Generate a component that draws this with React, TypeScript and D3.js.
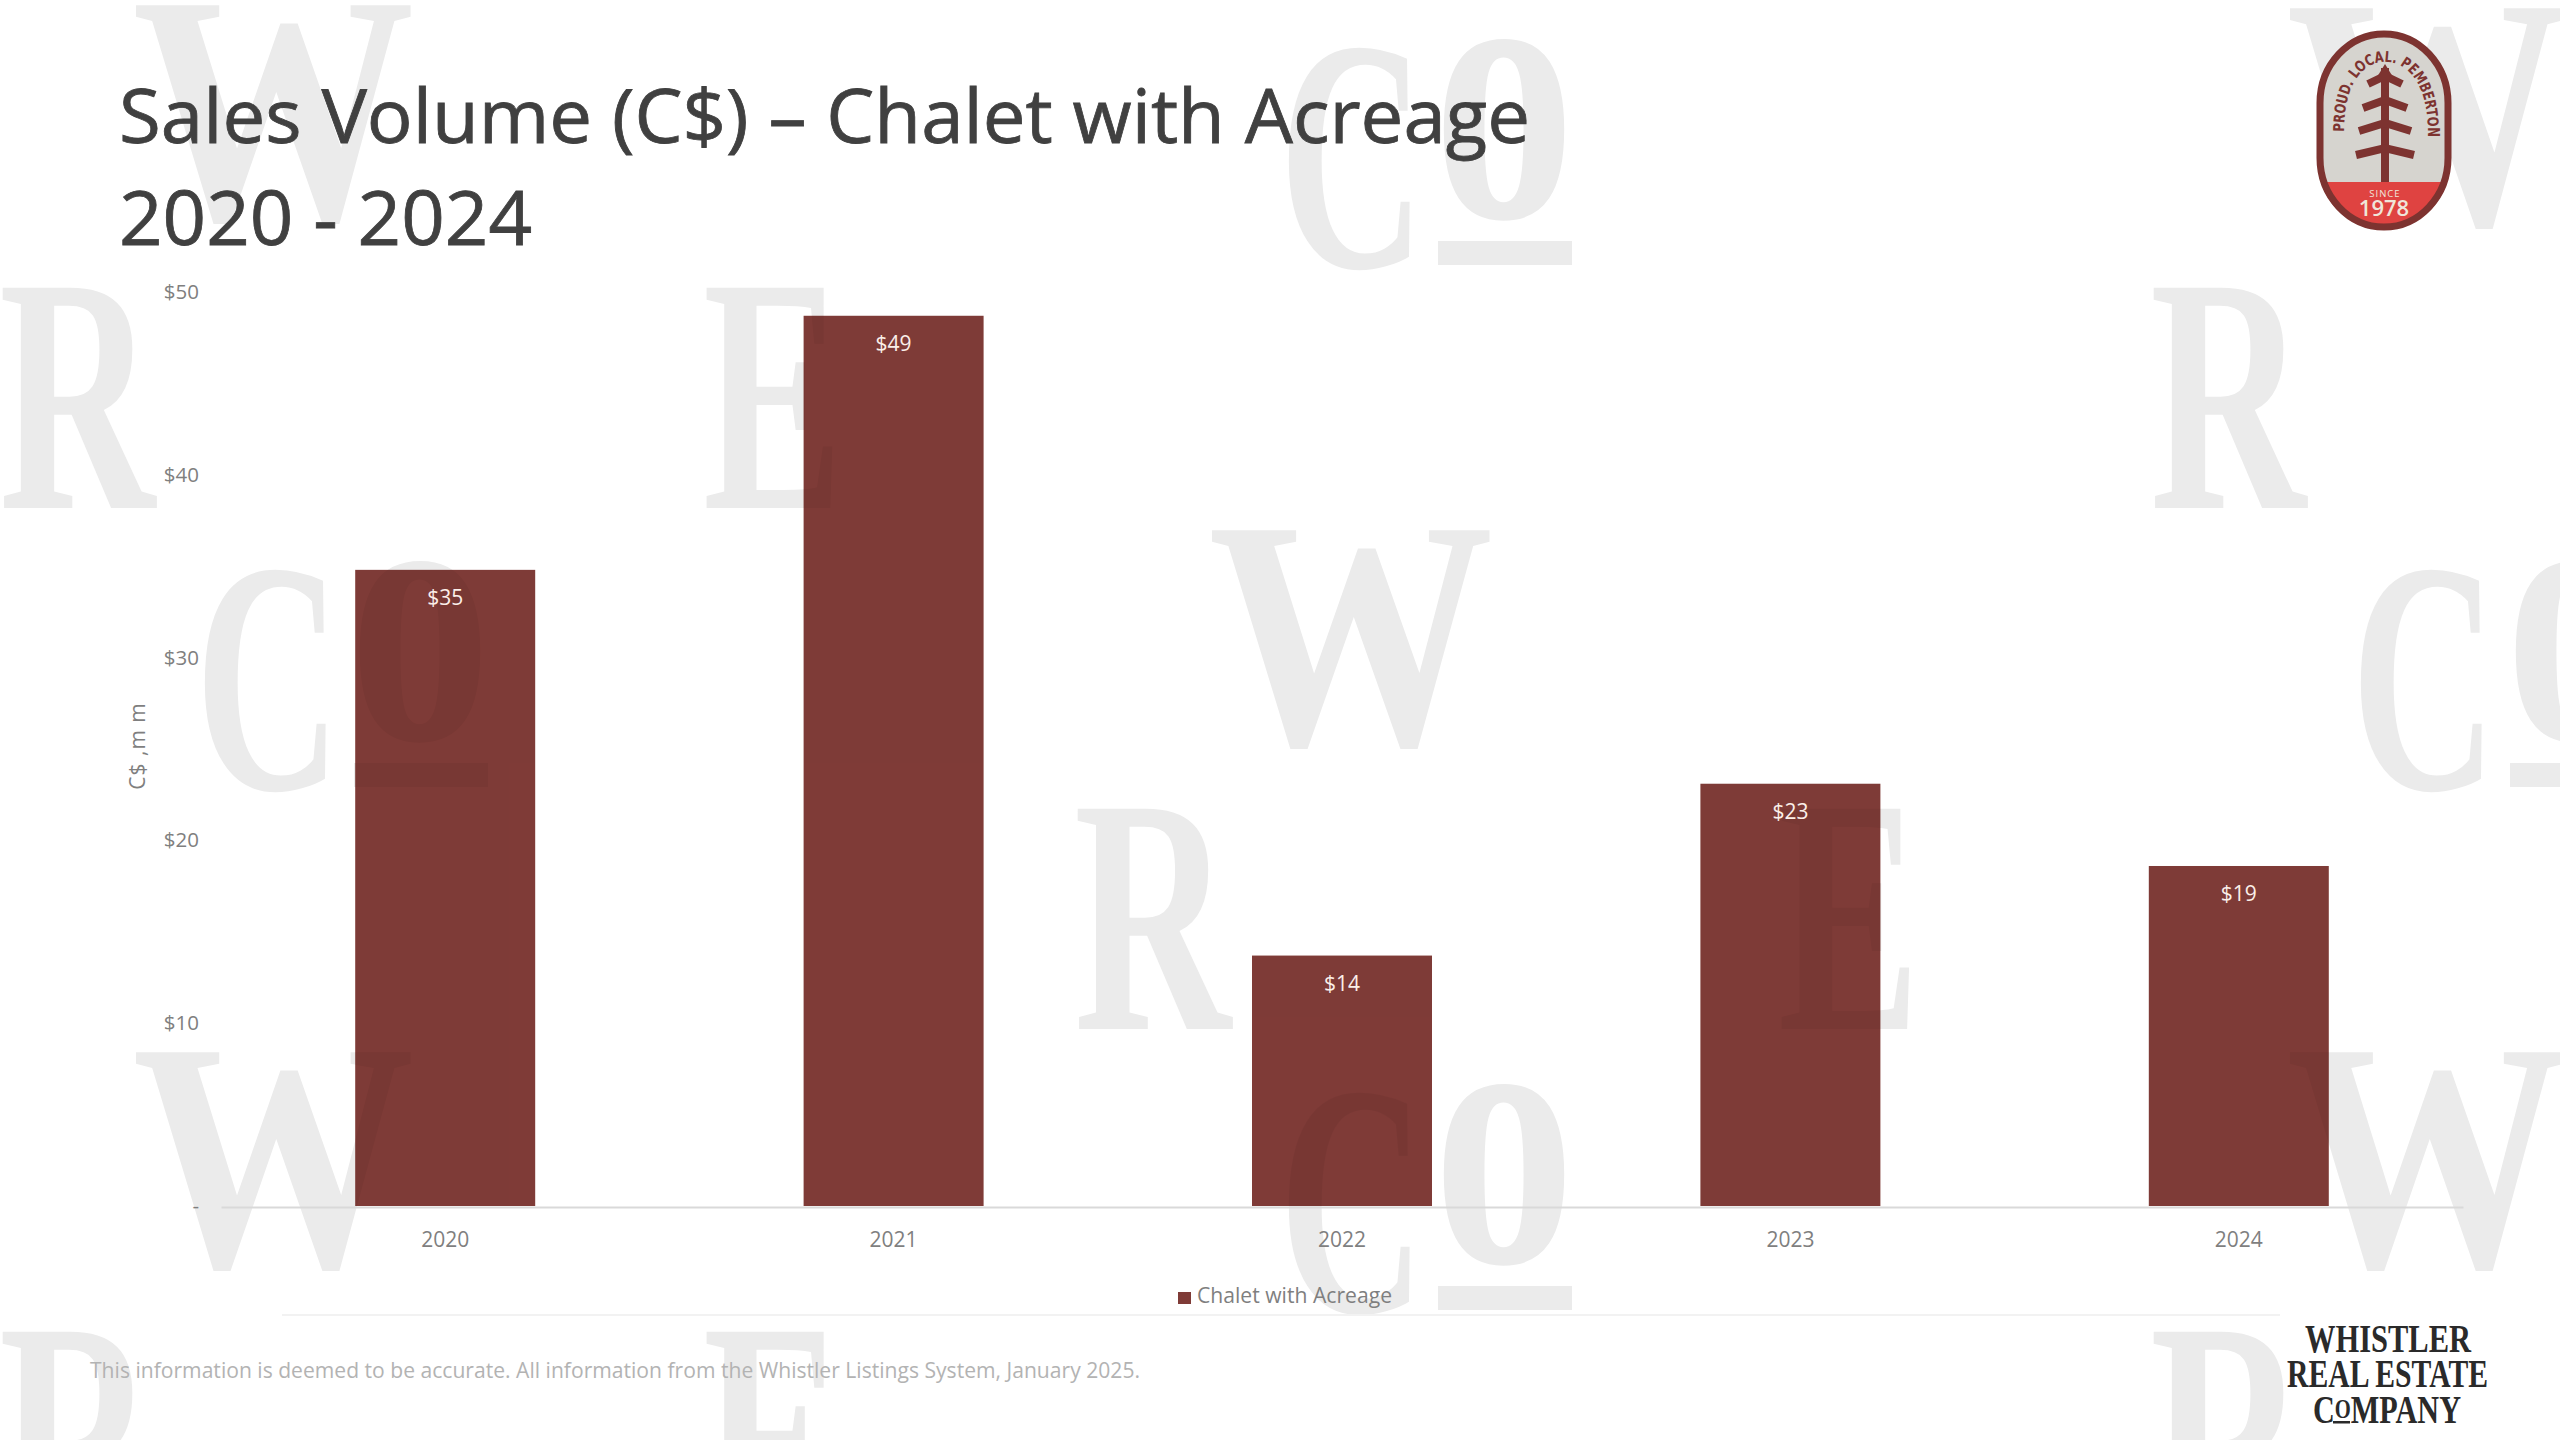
import React, { useEffect, useRef } from 'react';
import * as d3 from 'd3';

const years = ['2020', '2021', '2022', '2023', '2024'];
const salesVolume = [34.8, 48.7, 13.7, 23.1, 18.6];
const yTicks = [0, 10, 20, 30, 40, 50];
const seriesName = 'Chalet with Acreage';
const titleLines = ['Sales Volume (C$) \u2013 Chalet with Acreage', '2020 - 2024'];
const footnote = 'This information is deemed to be accurate. All information from the Whistler Listings System, January 2025.';
const badgeRing = 'PROUD. LOCAL. PEMBERTON';

const WIDTH = 2560;
const HEIGHT = 1440;
const SANS = '"Open Sans", sans-serif';
const SERIF = '"Liberation Serif", serif';
const BAR = '#7f3b37';
const WATERMARK = '#ebebeb';

// background tile: letter, left, top, width, height
const tile: [string, number, number, number, number][] = [
  ['W', 132, 0, 283, 222],
  ['W', 1208, 525, 286, 222],
  ['W', 2286, 3, 282, 224],
  ['W', 132, 1047, 283, 222],
  ['W', 2286, 1047, 282, 222],
  ['R', -1, 286, 156, 222],
  ['R', 2150, 286, 156, 222],
  ['R', 1074, 807, 157, 222],
  ['R', -1, 1330, 156, 222],
  ['R', 2150, 1330, 156, 222],
  ['E', 703, 286, 140, 222],
  ['E', 1778, 807, 142, 222],
  ['E', 703, 1330, 140, 222],
];
// the "Co" mark: left, top
const coMarks: [number, number][] = [
  [1283, 43],
  [199, 565],
  [2355, 565],
  [1283, 1088],
];

const App: React.FC = () => {
  const svgRef = useRef<SVGSVGElement>(null);

  useEffect(() => {
    if (!svgRef.current) return;
    const svg = d3.select(svgRef.current);
    svg.selectAll('*').remove();
    svg.attr('width', WIDTH).attr('height', HEIGHT);
    const defs = svg.append('defs');

    svg.append('rect').attr('width', WIDTH).attr('height', HEIGHT).attr('fill', '#ffffff');

    // Watermark
    const bg = svg.append('g')
      .attr('fill', WATERMARK)
      .append('g')
      .attr('id', 'watermark')
      .attr('font-family', SERIF)
      .attr('font-weight', 700);
    const fitLetter = (ch: string, x: number, baseline: number, w: number, size: number) => {
      bg.append('text')
        .attr('x', x)
        .attr('y', baseline)
        .attr('font-size', size)
        .attr('textLength', w)
        .attr('lengthAdjust', 'spacingAndGlyphs')
        .text(ch);
    };
    tile.forEach(([ch, x, y, w, h]) => {
      if (ch === 'W') fitLetter(ch, x, y + h - 3, w, h / 0.68);
      else fitLetter(ch, x, y + h, w, h / 0.66);
    });
    coMarks.forEach(([x, y]) => {
      fitLetter('C', x - 4, y + 224, 146, 331);
      fitLetter('o', x + 150, y + 174, 142, 378);
      bg.append('rect').attr('x', x + 155).attr('y', y + 198).attr('width', 134).attr('height', 24);
    });

    // faint rule above the footer
    svg.append('line')
      .attr('x1', 282).attr('x2', 2280).attr('y1', 1315).attr('y2', 1315)
      .attr('stroke', '#f2f2f2').attr('stroke-width', 2);

    // Title
    titleLines.forEach((line, i) => {
      svg.append('text')
        .attr('x', 119)
        .attr('y', i === 0 ? 143 : 245)
        .attr('font-family', SANS)
        .attr('font-size', 75)
        .attr('fill', '#404040')
        .attr('stroke', '#404040')
        .attr('stroke-width', 0.8)
        .attr('textLength', i === 0 ? 1411 : 413)
        .attr('lengthAdjust', 'spacingAndGlyphs')
        .text(line);
    });

    // Scales
    const xScale = d3.scaleBand<string>().domain(years).range([221, 2463]).paddingInner(0.5986).paddingOuter(0.2993);
    const yScale = d3.scaleLinear().domain([0, 50]).range([1206, 292]);

    // Bars
    svg.append('g')
      .selectAll('rect')
      .data(salesVolume)
      .enter()
      .append('rect')
      .attr('x', (_d: number, i: number) => xScale(years[i]) as number)
      .attr('y', (d: number) => yScale(d))
      .attr('width', xScale.bandwidth())
      .attr('height', (d: number) => yScale(0) - yScale(d))
      .attr('fill', BAR);

    // the watermark shows faintly through the bars
    defs.append('clipPath')
      .attr('id', 'bars-clip')
      .selectAll('rect')
      .data(salesVolume)
      .enter()
      .append('rect')
      .attr('x', (_d: number, i: number) => xScale(years[i]) as number)
      .attr('y', (d: number) => yScale(d))
      .attr('width', xScale.bandwidth())
      .attr('height', (d: number) => yScale(0) - yScale(d));
    svg.append('g')
      .attr('clip-path', 'url(#bars-clip)')
      .attr('opacity', 0.05)
      .append('use')
      .attr('href', '#watermark')
      .attr('fill', '#000000');

    svg.selectAll('.bar-label')
      .data(salesVolume)
      .enter()
      .append('text')
      .attr('class', 'bar-label')
      .attr('x', (_d: number, i: number) => (xScale(years[i]) as number) + xScale.bandwidth() / 2)
      .attr('y', (d: number) => yScale(d) + 35)
      .attr('text-anchor', 'middle')
      .attr('font-family', SANS)
      .attr('font-size', 21)
      .attr('fill', '#fbefe9')
      .text((d: number) => `$${Math.round(d)}`);

    // Axes
    const xAxis = svg.append('g')
      .attr('transform', 'translate(0,1207)')
      .call(d3.axisBottom(xScale).tickSize(0).tickPadding(25));
    xAxis.select('.domain').attr('stroke', '#d9d9d9').attr('stroke-width', 2);
    xAxis.selectAll('text').attr('font-family', SANS).attr('font-size', 21).attr('fill', '#7f7f7f');

    const yAxis = svg.append('g')
      .attr('transform', 'translate(199,0)')
      .call(
        d3.axisLeft(yScale)
          .tickValues(yTicks)
          .tickSize(0)
          .tickPadding(0)
          .tickFormat((d: d3.NumberValue) => (+d === 0 ? '-' : `$${d}`))
      );
    yAxis.select('.domain').remove();
    yAxis.selectAll('text').attr('font-family', SANS).attr('font-size', 20.5).attr('fill', '#7f7f7f');

    // Axis title
    svg.append('text')
      .attr('transform', 'translate(145,746) rotate(-90)')
      .attr('text-anchor', 'middle')
      .attr('font-family', SANS)
      .attr('font-size', 21)
      .attr('fill', '#7f7f7f')
      .attr('letter-spacing', 1)
      .text('C$ ,m m');

    // Legend
    svg.append('rect').attr('x', 1178).attr('y', 1292).attr('width', 13).attr('height', 12).attr('fill', BAR);
    svg.append('text')
      .attr('x', 1197)
      .attr('y', 1303)
      .attr('font-family', SANS)
      .attr('font-size', 21)
      .attr('fill', '#7f7f7f')
      .attr('textLength', 195)
      .attr('lengthAdjust', 'spacingAndGlyphs')
      .text(seriesName);

    // Footnote
    svg.append('text')
      .attr('x', 90)
      .attr('y', 1378)
      .attr('font-family', SANS)
      .attr('font-size', 22)
      .attr('fill', '#b3b3b3')
      .attr('textLength', 1050)
      .attr('lengthAdjust', 'spacingAndGlyphs')
      .text(footnote);

    // Badge, top right
    const badge = svg.append('g');
    const clip = defs.append('clipPath').attr('id', 'badge-clip');
    clip.append('rect').attr('x', 2317).attr('y', 31).attr('width', 134).attr('height', 199).attr('rx', 67).attr('ry', 72);
    defs.append('path').attr('id', 'badge-ring').attr('d', 'M2344,132 C2344,88 2360,62 2385,62 C2410,62 2428,88 2428,132');
    badge.append('rect').attr('x', 2317).attr('y', 31).attr('width', 134).attr('height', 199).attr('rx', 67).attr('ry', 72).attr('fill', '#d6d4cf');
    badge.append('rect').attr('x', 2310).attr('y', 182).attr('width', 150).attr('height', 50).attr('fill', '#df4341').attr('clip-path', 'url(#badge-clip)');
    badge.append('rect').attr('x', 2320).attr('y', 34).attr('width', 128).attr('height', 193).attr('rx', 64).attr('ry', 69).attr('fill', 'none').attr('stroke', '#7d3330').attr('stroke-width', 7);
    badge.append('text')
      .attr('font-family', '"DejaVu Sans", sans-serif')
      .attr('font-size', 15)
      .attr('font-weight', 600)
      .attr('fill', '#7d3330')
      .append('textPath')
      .attr('href', '#badge-ring')
      .attr('textLength', 186)
      .attr('lengthAdjust', 'spacingAndGlyphs')
      .text(badgeRing);
    const tree = badge.append('g').attr('fill', 'none').attr('stroke', '#7d3330').attr('stroke-width', 8);
    tree.append('line').attr('x1', 2385).attr('x2', 2385).attr('y1', 68).attr('y2', 182);
    ([[17, 76, 84], [22, 100, 108], [26, 123, 131], [29, 148, 155]] as number[][]).forEach(([dx, top, end]) => {
      tree.append('path').attr('d', `M${2385 - dx},${end} L2385,${top} L${2385 + dx},${end}`);
    });
    badge.append('path').attr('d', 'M2385,64 L2374,82 L2396,82 Z').attr('fill', '#7d3330');
    badge.append('text').attr('x', 2385).attr('y', 197).attr('text-anchor', 'middle')
      .attr('font-family', SANS).attr('font-size', 9.5).attr('fill', '#efe6da').attr('letter-spacing', 1).text('SINCE');
    badge.append('text').attr('x', 2384).attr('y', 216).attr('text-anchor', 'middle')
      .attr('font-family', SANS).attr('font-size', 22).attr('font-weight', 600).attr('fill', '#efe6da').text('1978');

    // Company wordmark, bottom right
    const mark = svg.append('g').attr('font-family', SERIF).attr('font-weight', 700).attr('font-size', 41).attr('fill', '#2a2a2a');
    mark.append('text').attr('x', 2305).attr('y', 1352).attr('textLength', 166).attr('lengthAdjust', 'spacingAndGlyphs').text('WHISTLER');
    mark.append('text').attr('x', 2287).attr('y', 1387).attr('textLength', 201).attr('lengthAdjust', 'spacingAndGlyphs').text('REAL ESTATE');
    const company = mark.append('text').attr('x', 2313).attr('y', 1423).attr('textLength', 148).attr('lengthAdjust', 'spacingAndGlyphs');
    company.append('tspan').text('C');
    company.append('tspan').attr('font-size', 28).attr('dy', -5).text('O');
    company.append('tspan').attr('dy', 5).text('MPANY');
    mark.append('rect').attr('x', 2333).attr('y', 1421).attr('width', 17).attr('height', 2.5);
  }, []);

  return <svg ref={svgRef} style={{ position: 'absolute', left: 0, top: 0, display: 'block' }} />;
};

export default App;
